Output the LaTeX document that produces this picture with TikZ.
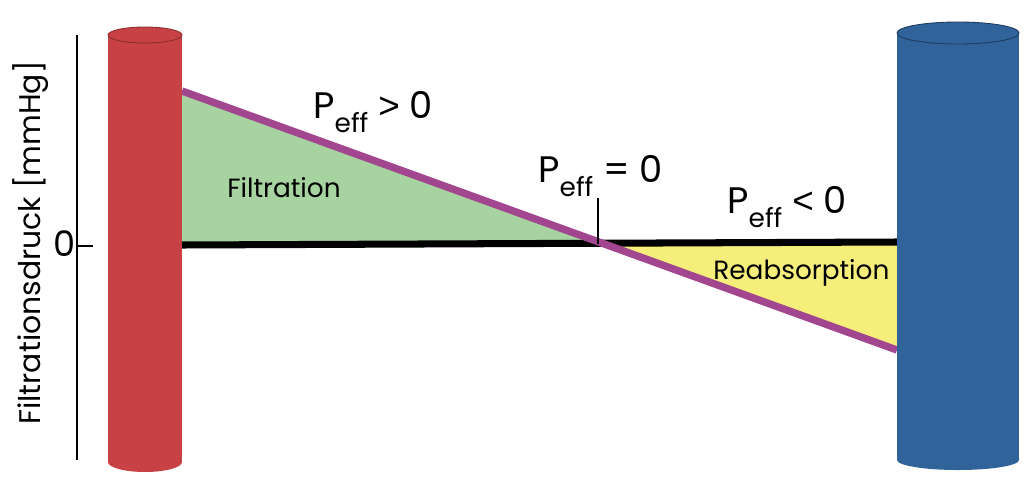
\documentclass[tikz,border=0pt]{standalone}
\usepackage{fontspec}
\setmainfont{Poppins}
\newfontfamily\symfont{Liberation Sans}
\usetikzlibrary{positioning}
\definecolor{vesselred}{RGB}{200,66,69}
\definecolor{vesselblue}{RGB}{49,99,155}
\definecolor{filtgreen}{RGB}{166,211,160}
\definecolor{reabyellow}{RGB}{245,238,122}
\definecolor{peffpurple}{RGB}{162,70,143}
\newcommand{\peff}{P\raisebox{-8pt}{\fontsize{15}{15}\selectfont eff}}

\begin{document}
\begin{tikzpicture}[
    x=0.02cm, y=-0.02cm,
    biglabel/.style={font=\fontsize{21}{24}\selectfont, inner sep=0pt, anchor=base west},
    arealabel/.style={font=\fontsize{15}{18}\selectfont, inner sep=0pt, anchor=base west}
  ]
  \useasboundingbox (0,0) rectangle (1024,480);

  % axis
  \draw[line width=1.6pt] (77,35) -- (77,460);
  \draw[line width=1.6pt] (77,246) -- (93,246);
  \node[font=\fontsize{20}{24}\selectfont, inner sep=0pt] (zero) at (65,244) {0};
  \node[font=\fontsize{17}{20}\selectfont, inner sep=0pt, rotate=90] (ylabel) at (31,243)
    {Filtrationsdruck [mmHg]};

  % pressure points
  \coordinate (rtop) at (182,91);
  \coordinate (rzero) at (182,245);
  \coordinate (cross) at (598,243.5);
  \coordinate (bzero) at (897,242);
  \coordinate (bbot) at (897,350);

  \fill[filtgreen] (rtop) -- (rzero) -- (cross) -- cycle;
  \fill[reabyellow] (cross) -- (bzero) -- (bbot) -- cycle;
  \draw[line width=4pt] (rzero) -- (bzero);
  \draw[line width=4.2pt, peffpurple] (rtop) -- (bbot);
  \draw[line width=0.8pt] (cross) -- ++(0,-46) coordinate (ctick);

  % vessels
  \fill[vesselred] (145,462) ellipse[x radius=37, y radius=10];
  \fill[vesselred] (108,35) rectangle (182,462);
  \filldraw[fill=vesselred, draw=vesselred!70!black, line width=0.5pt]
    (145,35) ellipse[x radius=37, y radius=8];
  \fill[vesselblue] (958,460) ellipse[x radius=61, y radius=10];
  \fill[vesselblue] (897,33) rectangle (1019,460);
  \filldraw[fill=vesselblue, draw=vesselblue!60!black, line width=0.5pt]
    (958,33) ellipse[x radius=61, y radius=11];

  % labels
  \node[biglabel] (pgt) at (313,118) {\peff{} {\symfont >} 0};
  \node[biglabel] (peq) at (538,182) {\peff{} = 0};
  \node[biglabel] (plt) at (727,213) {\peff{} {\symfont <} 0};
  \node[arealabel] (filt) at (227,197) {Filtration};
  \node[arealabel] (reab) at (713,279) {Reabsorption};
\end{tikzpicture}
\end{document}
